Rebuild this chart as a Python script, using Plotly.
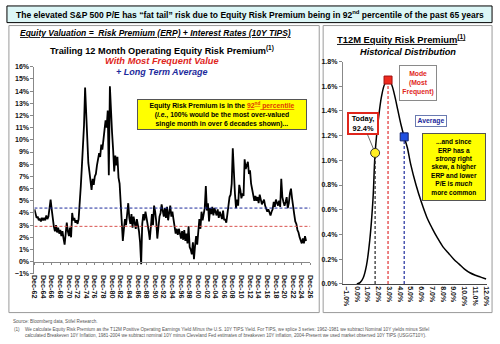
import plotly.graph_objects as go

W, H = 500, 344
FONT = "Arial, 'Liberation Sans', sans-serif"
RED = "#e0261c"
BLUE = "#1c2a9c"


def fx(x):
    return x / W


def fy(y):
    return 1 - y / H


# ---------------- data ----------------
# Trailing 12M operating equity risk premium (%), quarterly, Dec-1962 .. Dec-2025
erp_first_year = 1962
erp_values = [
    4.3,
    3.9, 3.6, 3.7, 3.4,    # 1963
    3.5, 3.3, 3.6, 3.4,    # 1964
    3.6, 3.4, 3.8, 3.5,    # 1965
    3.7, 4.4, 5.1, 4.3,    # 1966
    3.4, 2.9, 2.5, 3.0,    # 1967
    2.4, 2.8, 2.3, 2.6,    # 1968
    2.1, 2.5, 1.9, 1.4,    # 1969
    2.3, 3.2, 2.5, 2.1,    # 1970
    2.8, 2.0, 4.0, 3.4,    # 1971
    3.6, 3.2, 3.4, 3.1,    # 1972
    3.5, 4.6, 6.2, 7.8,    # 1973
    9.4, 11.2, 14.3, 12.4,  # 1974
    9.8, 8.1, 7.4, 6.6,    # 1975
    5.9, 6.8, 6.3, 7.0,    # 1976
    7.2, 7.9, 8.4, 8.9,    # 1977
    8.6, 9.6, 9.2, 10.3,   # 1978
    10.8, 11.6, 11.0, 12.4,  # 1979
    7.1, 14.4, 11.8, 10.6,  # 1980
    9.2, 7.4, 8.7, 7.9,    # 1981
    8.6, 6.9, 6.4, 4.9,    # 1982
    3.2, 1.7, 2.7, 3.5,    # 1983
    3.0, 4.1, 4.8, 3.6,    # 1984
    3.1, 3.9, 2.8, 3.7,    # 1985
    3.3, 2.7, 3.5, 3.0,    # 1986
    2.5, 1.6, -0.2, 3.1,   # 1987
    3.9, 3.4, 4.1, 3.6,    # 1988
    3.2, 2.5, 1.8, 3.3,    # 1989
    3.9, 3.0, 4.6, 4.1,    # 1990
    3.3, 1.9, 3.1, 3.7,    # 1991
    4.0, 4.7, 4.2, 3.7,    # 1992
    4.4, 3.6, 4.5, 3.4,    # 1993
    4.0, 4.6, 3.7, 4.1,    # 1994
    3.5, 3.0, 2.3, 2.7,    # 1995
    2.2, 2.7, 2.3, 1.9,    # 1996
    2.5, 1.8, 2.6, 1.7,    # 1997
    2.3, 1.5, 2.9, 1.2,    # 1998
    1.0, 0.6, 1.6, 0.2,    # 1999
    1.3, 2.1, 1.4, 2.9,    # 2000
    3.5, 2.7, 4.1, 3.4,    # 2001
    3.9, 4.4, 6.2, 4.2,    # 2002
    4.8, 3.3, 4.4, 3.9,    # 2003
    4.5, 3.8, 4.4, 4.0,    # 2004
    3.8, 4.3, 3.6, 4.1,    # 2005
    3.7, 3.5, 4.2, 3.4,    # 2006
    3.5, 3.2, 3.9, 4.7,    # 2007
    5.3, 5.5, 6.4, 9.3,    # 2008
    7.1, 5.6, 4.4, 5.1,    # 2009
    4.6, 6.3, 5.9, 5.2,    # 2010
    5.6, 5.4, 8.4, 7.6,    # 2011
    7.9, 8.2, 7.2, 7.5,    # 2012
    6.4, 5.8, 5.5, 5.0,    # 2013
    5.4, 5.0, 5.3, 4.8,    # 2014
    5.5, 5.0, 4.7, 4.9,    # 2015
    5.1, 4.6, 4.4, 4.1,    # 2016
    4.3, 4.0, 3.8, 4.1,    # 2017
    4.3, 4.9, 4.5, 5.1,    # 2018
    4.8, 4.6, 5.0, 4.5,    # 2019
    6.8, 5.3, 4.9, 4.6,    # 2020
    4.9, 5.3, 4.4, 4.8,    # 2021
    5.6, 6.0, 5.2, 4.3,    # 2022
    3.9, 3.3, 3.1, 2.6,    # 2023
    2.4, 2.0, 1.7, 1.5,    # 2024
    1.9, 1.5, 2.1, 1.7,    # 2025
]

erp_mean = 4.4   # long term average
erp_mode = 2.9   # most frequent value
erp_today = 1.7

# Historical distribution of the ERP (x: ERP %, y: frequency %)
dist_x = [0.0, 0.3, 0.6, 0.9, 1.2, 1.5, 1.7, 2.0, 2.3, 2.6, 2.9, 3.2, 3.5, 3.8,
          4.1, 4.4, 4.7, 5.0, 5.5, 6.0, 6.5, 7.0, 7.5, 8.0, 8.5, 9.0, 9.5,
          10.0, 10.5, 11.0, 11.5, 12.0]
dist_y = [0.0, 0.01, 0.05, 0.15, 0.35, 0.68, 1.06, 1.33, 1.52, 1.62, 1.65, 1.62,
          1.53, 1.41, 1.29, 1.19, 1.10, 0.97, 0.80, 0.66, 0.54, 0.45, 0.37,
          0.30, 0.25, 0.20, 0.16, 0.12, 0.09, 0.07, 0.055, 0.04]
dist_today = 1.06
dist_mode = 1.65
dist_mean = 1.19

x_tick_years = list(range(1962, 2027, 2))

# quarter-end dates for the series
erp_dates = [f"{erp_first_year}-12-01"]
y, m = erp_first_year, 12
while len(erp_dates) < len(erp_values):
    m += 3
    if m > 12:
        m -= 12
        y += 1
    erp_dates.append(f"{y}-{m:02d}-01")

x_start, x_end = "1962-12-01", "2026-12-01"

fig = go.Figure()

# ---------------- left: time series ----------------
fig.add_trace(go.Scatter(x=erp_dates, y=erp_values, mode="lines",
                         line=dict(color="black", width=1.8),
                         xaxis="x", yaxis="y", hoverinfo="skip"))
fig.add_trace(go.Scatter(x=[x_start, x_end], y=[erp_mean, erp_mean], mode="lines",
                         line=dict(color=BLUE, width=1, dash="3px,2px"),
                         xaxis="x3", yaxis="y", hoverinfo="skip"))
fig.add_trace(go.Scatter(x=[x_start, x_end], y=[erp_mode, erp_mode], mode="lines",
                         line=dict(color="#d9534f", width=1, dash="3px,2px"),
                         xaxis="x3", yaxis="y", hoverinfo="skip"))

# ---------------- right: distribution ----------------
fig.add_trace(go.Scatter(x=dist_x, y=dist_y, mode="lines",
                         line=dict(color="black", width=1.5, shape="spline"),
                         xaxis="x2", yaxis="y2", hoverinfo="skip"))
for v, h, c in [(erp_today, dist_today, "#222222"),
                (erp_mode, dist_mode, "#e03030"),
                (erp_mean, dist_mean, "#1c2a9c")]:
    fig.add_trace(go.Scatter(x=[v, v], y=[0, h], mode="lines",
                             line=dict(color=c, width=1.2, dash="3px,2px"),
                             xaxis="x2", yaxis="y2", hoverinfo="skip"))
fig.add_trace(go.Scatter(x=[erp_mode], y=[dist_mode], mode="markers",
                         marker=dict(symbol="square", size=8, color="#ee2a1e",
                                     line=dict(color="#a01010", width=1)),
                         xaxis="x2", yaxis="y2", hoverinfo="skip"))
fig.add_trace(go.Scatter(x=[erp_mean], y=[dist_mean], mode="markers",
                         marker=dict(symbol="square", size=8, color="#1f4fe0",
                                     line=dict(color="#10206a", width=1)),
                         xaxis="x2", yaxis="y2", hoverinfo="skip"))
fig.add_trace(go.Scatter(x=[erp_today], y=[dist_today], mode="markers",
                         marker=dict(symbol="circle", size=9, color="#ffee22",
                                     line=dict(color="#333333", width=1)),
                         xaxis="x2", yaxis="y2", hoverinfo="skip"))

tickfont = dict(family=FONT, size=7, color="#111111", weight="bold")
ldom_y = [fy(275.5), fy(64)]
zero_pos = ldom_y[0] + (ldom_y[1] - ldom_y[0]) * (1 / 17)

fig.update_layout(
    width=W, height=H,
    margin=dict(l=0, r=0, t=0, b=0),
    paper_bgcolor="white", plot_bgcolor="white",
    showlegend=False,
    font=dict(family=FONT, color="black"),
    xaxis=dict(domain=[fx(31), fx(312)], range=[x_start, x_end], type="date",
               tickvals=[f"{yr}-12-01" for yr in x_tick_years],
               ticktext=[f"Dec-{yr % 100:02d}" for yr in x_tick_years],
               tickangle=90,
               tickfont=dict(family=FONT, size=7.2, color="#111111", weight="bold"),
               showgrid=False, zeroline=False, showline=False, ticks="",
               anchor="y"),
    xaxis3=dict(overlaying="x", range=[x_start, x_end], type="date",
                anchor="free", position=zero_pos,
                tickvals=[f"{yr}-12-01" for yr in x_tick_years],
                showticklabels=False, ticks="outside", ticklen=2.5,
                tickcolor="#888888", showline=True, linecolor="#888888",
                linewidth=1, showgrid=False, zeroline=False),
    yaxis=dict(domain=ldom_y, range=[-1, 16], dtick=1, ticksuffix="%",
               tickfont=tickfont, showgrid=False, zeroline=False,
               showline=True, linecolor="#888888", ticks="outside",
               ticklen=3, tickcolor="#888888", anchor="x"),
    xaxis2=dict(domain=[fx(345), fx(492)], range=[-1.3, 12.1], dtick=1,
                tick0=-1, tickformat=".1f", ticksuffix="%", tickangle=90,
                tickfont=tickfont, showgrid=False, zeroline=False,
                showline=True, linecolor="#444444", ticks="", anchor="y2"),
    yaxis2=dict(domain=[fy(285.7), fy(58.7)], range=[0, 1.8], dtick=0.2,
                tickformat=".1f", ticksuffix="%", tickfont=tickfont,
                showgrid=False, zeroline=False, showline=True,
                linecolor="#888888", ticks="outside", ticklen=3,
                tickcolor="#888888", anchor="x2"),
)

shapes = [
    # title banner
    dict(type="rect", xref="paper", yref="paper", x0=fx(3), x1=fx(497),
         y0=fy(19), y1=fy(2), fillcolor="#dcf6f6", line=dict(color="black", width=1),
         layer="below"),
    # panels
    dict(type="rect", xref="paper", yref="paper", x0=fx(5), x1=fx(321),
         y0=fy(315), y1=fy(22), line=dict(color="#9a9a9a", width=1), layer="below"),
    dict(type="rect", xref="paper", yref="paper", x0=fx(325), x1=fx(497),
         y0=fy(315), y1=fy(22), line=dict(color="#9a9a9a", width=1), layer="below"),
]
fig.update_layout(shapes=shapes)

UL = "<span style='text-decoration:underline'>"


def note(x, y, text, size, color="black", xanchor="center", **kw):
    fig.add_annotation(xref="paper", yref="paper", x=fx(x), y=fy(y), text=text,
                       showarrow=False, xanchor=xanchor, yanchor="middle",
                       font=dict(family=FONT, size=size, color=color), **kw)


note(251, 10.5, "<b>The elevated S&amp;P 500 P/E has \u201cfat tail\u201d risk due to Equity Risk "
     "Premium being in 92<sup>nd</sup> percentile of the past 65 years</b>", 8.5)
note(14, 30, f"<b><i>{UL}Equity Valuation =  Risk Premium (ERP) + Interest Rates (10Y TIPS)</span></i></b>",
     8.5, xanchor="left")
note(161, 47, "<b>Trailing 12 Month Operating Equity Risk Premium<sup>(1)</sup></b>", 9.2)
note(161, 58, "<b><i>With Most Frequent Value</i></b>", 9.3, color=RED)
note(161, 69, "<b><i>+ Long Term Average</i></b>", 9.0, color=BLUE)

note(222, 112.5,
     "<b>Equity Risk Premium is in the "
     f"<span style='color:#e03a00'>{UL}92<sup>nd</sup> percentile</span></span><br>"
     "(<i>i.e.</i>, 100% would be the most over-valued<br>"
     "single month in over 6 decades shown)...</b>",
     6.8, bgcolor="#ffff00", bordercolor="#555555", borderwidth=1,
     width=166, height=27)

note(404, 36, f"<b>{UL}T12M Equity Risk Premium<sup>(1)</sup></span></b>", 9.4)
note(411, 49, "<b><i>Historical Distribution</i></b>", 9.2)

note(422, 80.5, "<b>Mode<br>(Most<br>Frequent)</b>", 6.8, color="#e0261c",
     bgcolor="white", bordercolor="#8a8a8a", borderwidth=1, width=34, height=32)
note(435, 119.3, "<b>Average</b>", 6.8, color="#1c2a9c",
     bgcolor="white", bordercolor="#6a7ab0", borderwidth=1, width=28, height=8)
note(458.5, 166,
     "<b>...and since<br>ERP has a<br><i>strong</i> right<br>skew, a higher<br>"
     "ERP and lower<br>P/E is <i>much</i><br>more common</b>",
     6.5, bgcolor="#ffff00", bordercolor="#555555", borderwidth=1,
     width=60, height=64)

# "Today" callout linked to the current reading on the distribution
fig.add_annotation(xref="x2", yref="y2", x=erp_today, y=dist_today,
                   text="<b>Today,<br>92.4%</b>", showarrow=True, arrowhead=0,
                   arrowwidth=0.8, arrowcolor="#444444", ax=-12, ay=-29,
                   font=dict(family=FONT, size=7.4, color="black"),
                   bgcolor="white", bordercolor="#e0261c", borderwidth=2,
                   width=26, height=17, standoff=4)

note(7, 324, "Source: Bloomberg data, Stifel Research.", 4.6, color="#555555",
     xanchor="left")
note(8, 332.5, "(1)", 4.6, color="#555555", xanchor="left")
note(19, 335.5,
     "We calculate Equity Risk Premium as the T12M Positive Operating Earnings Yield "
     "<i>Minus</i> the U.S. 10Y TIPS Yield. For TIPS, we splice 3 series: 1962-1981 we "
     "subtract Nominal 10Y yields minus Stifel<br>calculated Breakeven 10Y Inflation, "
     "1981-2004 we subtract nominal 10Y minus Cleveland Fed estimates of breakeven 10Y "
     "inflation, 2004-Present we used market observed 10Y TIPS (USGGT10Y).",
     4.6, color="#555555", xanchor="left", align="left")

fig.write_html("out.html")
